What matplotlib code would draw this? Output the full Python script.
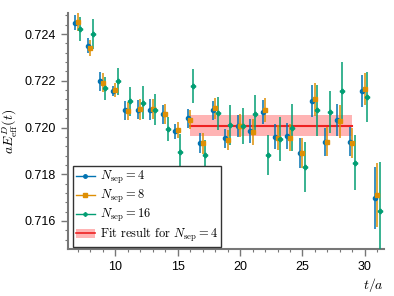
import numpy as np
import matplotlib
matplotlib.use('Agg')
import matplotlib.pyplot as plt
from matplotlib.lines import Line2D
from matplotlib.patches import Patch

plt.rcParams['mathtext.fontset'] = 'cm'
plt.rcParams['font.family'] = ['Liberation Sans', 'DejaVu Sans']

t = np.arange(7, 32)

# N_sep = 4
e4 = [0.72449, 0.72349, 0.72197, 0.72155, 0.72073, 0.72077, 0.72077, 0.72056, 0.71984, 0.72040,
      0.71934, 0.72074, 0.71953, 0.72007, 0.71985, 0.72067, 0.71960, 0.71964, 0.71891, 0.72114,
      0.71940, 0.72031, 0.71940, 0.72155, 0.71699]
d4 = [0.00033, 0.00032, 0.00041, 0.00021, 0.00041, 0.00040, 0.00044, 0.00039, 0.00032, 0.00040,
      0.00043, 0.00040, 0.00039, 0.00046, 0.00053, 0.00051, 0.00053, 0.00055, 0.00064, 0.00068,
      0.00060, 0.00068, 0.00064, 0.00069, 0.00133]
# N_sep = 8
e8 = [0.72451, 0.72340, 0.72192, 0.72162, 0.72071, 0.72078, 0.72078, 0.72056, 0.71988, 0.72034,
      0.71932, 0.72082, 0.71946, 0.72008, 0.71981, 0.72074, 0.71957, 0.71956, 0.71891, 0.72121,
      0.71940, 0.72027, 0.71934, 0.72165, 0.71711]
d8 = [0.00039, 0.00034, 0.00040, 0.00030, 0.00038, 0.00046, 0.00043, 0.00043, 0.00035, 0.00042,
      0.00045, 0.00045, 0.00042, 0.00048, 0.00055, 0.00052, 0.00055, 0.00058, 0.00064, 0.00070,
      0.00062, 0.00070, 0.00066, 0.00070, 0.00135]
# N_sep = 16
e16 = [0.72423, 0.72402, 0.72168, 0.72197, 0.72112, 0.72107, 0.72077, 0.71993, 0.71896, 0.72179,
       0.71882, 0.72060, 0.72010, 0.72007, 0.72057, 0.71882, 0.71950, 0.72000, 0.71832, 0.72074,
       0.72068, 0.72155, 0.71850, 0.72131, 0.71644]
d16 = [0.00052, 0.00064, 0.00050, 0.00057, 0.00062, 0.00069, 0.00068, 0.00052, 0.00075, 0.00073,
       0.00064, 0.00070, 0.00085, 0.00078, 0.00082, 0.00085, 0.00093, 0.00100, 0.00107, 0.00110,
       0.00090, 0.00125, 0.00117, 0.00107, 0.00210]

fit_val = 0.72007
fit_err = 0.00045
fit_range = [16, 29]

cols = ['#0173B2', '#DE8F05', '#029E73']
red = '#EE2222'

fig = plt.figure(figsize=(3.94, 2.96), dpi=100)
ax = fig.add_axes([0.1726, 0.1588, 0.8008, 0.7972])

ax.fill_between(fit_range, fit_val - fit_err, fit_val + fit_err, color='#FF6B6B', alpha=0.5, lw=0, zorder=1)
ax.plot(fit_range, [fit_val, fit_val], color=red, lw=1.5, zorder=2)

series = [(e4, d4, 'o', -0.2), (e8, d8, 's', 0.0), (e16, d16, 'P', 0.2)]
for (e, d, m, off), c in zip(series, cols):
    ax.errorbar(t + off, e, yerr=d, fmt=m, color=c, ms=3, elinewidth=1.1, capsize=0, zorder=3)

ax.set_xlim(6.2, 31.5)
ax.set_ylim(0.7148, 0.7249)
ax.set_yticks([0.716, 0.718, 0.720, 0.722, 0.724])
ax.set_xticks([10, 15, 20, 25, 30])
ax.set_xticks(np.arange(7, 32), minor=True)
ax.set_yticks(np.arange(0.7152, 0.7249, 0.0004), minor=True)
ax.tick_params(which='both', direction='out', color='#777777', labelsize=9)
ax.tick_params(which='major', length=5, width=1)
ax.tick_params(which='minor', length=2.5, width=0.8)

for s in ['top', 'right']:
    ax.spines[s].set_visible(False)
for s in ['left', 'bottom']:
    ax.spines[s].set_color('#777777')
    ax.spines[s].set_linewidth(1.5)

ax.set_xlabel(r'$t/a$', loc='right', fontsize=10, labelpad=2)
ax.set_ylabel(r'$aE^{D}_{\rm eff}(t)$', fontsize=10)

handles = [Line2D([], [], color=c, marker=m, ms=2.5, lw=1) for c, m in zip(cols, ['o', 's', 'P'])]
handles.append((Patch(facecolor='#FF6B6B', alpha=0.5, lw=0), Line2D([], [], color=red, lw=1.2)))
labels = [r'$N_{\rm sep}=4$', r'$N_{\rm sep}=8$', r'$N_{\rm sep}=16$',
          r'$\mathrm{Fit\ result\ for}\ N_{\rm sep}=4$']
leg = ax.legend(handles, labels, loc='lower left', bbox_to_anchor=(0.015, 0.008), borderaxespad=0,
                fancybox=False, edgecolor='#333333', framealpha=1, fontsize=9,
                handlelength=1.5, handletextpad=0.4, labelspacing=0.15, borderpad=0.25)
leg.get_frame().set_linewidth(1.0)

fig.savefig('out.png', dpi=100)
